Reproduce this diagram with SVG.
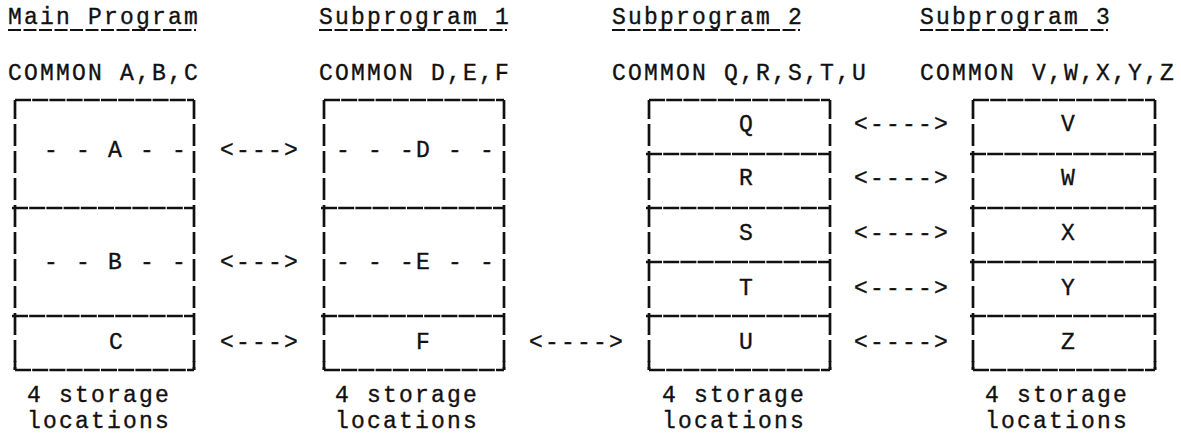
<svg xmlns="http://www.w3.org/2000/svg" width="1181" height="435" viewBox="0 0 1181 435">
<style>
.t{font-family:"Liberation Mono","DejaVu Sans Mono",monospace;font-size:23px;fill:#111;stroke:#111;stroke-width:0.35;letter-spacing:2.2px}
.c{font-family:"Liberation Mono","DejaVu Sans Mono",monospace;font-size:23px;fill:#111;stroke:#111;stroke-width:0.35;text-anchor:middle}
.h{stroke:#111;stroke-width:2.5;stroke-dasharray:16 1.2;fill:none}
.v{stroke:#111;stroke-width:2.7;stroke-dasharray:22 5;stroke-dashoffset:3;fill:none}
.k{stroke:#111;stroke-width:2.7;fill:none}
.u{stroke:#111;stroke-width:2.2;stroke-dasharray:13 2.5;fill:none}
</style>
<rect width="1181" height="435" fill="#fff"/>

<g id="main-program">
<text class="t" x="8" y="24">Main Program</text>
<line class="u" x1="8" y1="30" x2="196" y2="30"/>
<text class="t" x="8" y="80">COMMON A,B,C</text>
<line class="h" x1="15" y1="100" x2="194" y2="100"/>
<line class="h" x1="12" y1="208" x2="194" y2="208"/>
<line class="h" x1="12" y1="316" x2="194" y2="316"/>
<line class="h" x1="15" y1="370" x2="194" y2="370"/>
<line class="v" x1="15" y1="100" x2="15" y2="370"/>
<line class="v" x1="194" y1="100" x2="194" y2="370"/>
<path class="k" d="M15,361V370M194,361V370"/>
<text class="t" x="44" y="157">- - A - -</text>
<text class="t" x="44" y="269">- - B - -</text>
<text class="c" x="116" y="349">C</text>
<text class="t" x="27" y="402">4 storage</text>
<text class="t" x="27" y="428">locations</text>
</g>

<g id="subprogram-1">
<text class="t" x="319" y="24">Subprogram 1</text>
<line class="u" x1="319" y1="30" x2="507" y2="30"/>
<text class="t" x="319" y="80">COMMON D,E,F</text>
<line class="h" x1="324" y1="100" x2="504" y2="100"/>
<line class="h" x1="321" y1="208" x2="504" y2="208"/>
<line class="h" x1="321" y1="316" x2="504" y2="316"/>
<line class="h" x1="324" y1="370" x2="504" y2="370"/>
<line class="v" x1="324" y1="100" x2="324" y2="370"/>
<line class="v" x1="504" y1="100" x2="504" y2="370"/>
<path class="k" d="M324,361V370M504,361V370"/>
<text class="t" x="336" y="157">- - -D - -</text>
<text class="t" x="336" y="269">- - -E - -</text>
<text class="c" x="423" y="349">F</text>
<text class="t" x="335" y="402">4 storage</text>
<text class="t" x="335" y="428">locations</text>
</g>

<g id="subprogram-2">
<text class="t" x="612" y="24">Subprogram 2</text>
<line class="u" x1="612" y1="30" x2="800" y2="30"/>
<text class="t" x="612" y="80">COMMON Q,R,S,T,U</text>
<line class="h" x1="649" y1="100" x2="830" y2="100"/>
<line class="h" x1="646" y1="154" x2="830" y2="154"/>
<line class="h" x1="646" y1="208" x2="830" y2="208"/>
<line class="h" x1="646" y1="262" x2="830" y2="262"/>
<line class="h" x1="646" y1="316" x2="830" y2="316"/>
<line class="h" x1="649" y1="370" x2="830" y2="370"/>
<line class="v" x1="649" y1="100" x2="649" y2="370"/>
<line class="v" x1="830" y1="100" x2="830" y2="370"/>
<path class="k" d="M649,361V370M830,361V370"/>
<text class="c" x="746" y="131">Q</text>
<text class="c" x="746" y="185">R</text>
<text class="c" x="746" y="240">S</text>
<text class="c" x="746" y="295">T</text>
<text class="c" x="746" y="349">U</text>
<text class="t" x="662" y="402">4 storage</text>
<text class="t" x="662" y="428">locations</text>
</g>

<g id="subprogram-3">
<text class="t" x="920" y="24">Subprogram 3</text>
<line class="u" x1="920" y1="30" x2="1108" y2="30"/>
<text class="t" x="920" y="80">COMMON V,W,X,Y,Z</text>
<line class="h" x1="973" y1="100" x2="1155" y2="100"/>
<line class="h" x1="970" y1="154" x2="1155" y2="154"/>
<line class="h" x1="970" y1="208" x2="1155" y2="208"/>
<line class="h" x1="970" y1="262" x2="1155" y2="262"/>
<line class="h" x1="970" y1="316" x2="1155" y2="316"/>
<line class="h" x1="973" y1="370" x2="1155" y2="370"/>
<line class="v" x1="973" y1="100" x2="973" y2="370"/>
<line class="v" x1="1155" y1="100" x2="1155" y2="370"/>
<path class="k" d="M973,361V370M1155,361V370"/>
<text class="c" x="1068" y="131">V</text>
<text class="c" x="1068" y="185">W</text>
<text class="c" x="1068" y="240">X</text>
<text class="c" x="1068" y="295">Y</text>
<text class="c" x="1068" y="349">Z</text>
<text class="t" x="985" y="402">4 storage</text>
<text class="t" x="985" y="428">locations</text>
</g>

<g id="connectors">
<text class="t" x="220" y="157">&lt;---&gt;</text>
<text class="t" x="220" y="269">&lt;---&gt;</text>
<text class="t" x="220" y="349">&lt;---&gt;</text>
<text class="t" x="529" y="349">&lt;----&gt;</text>
<text class="t" x="854" y="131">&lt;----&gt;</text>
<text class="t" x="854" y="185">&lt;----&gt;</text>
<text class="t" x="854" y="240">&lt;----&gt;</text>
<text class="t" x="854" y="295">&lt;----&gt;</text>
<text class="t" x="854" y="349">&lt;----&gt;</text>
</g>
</svg>
